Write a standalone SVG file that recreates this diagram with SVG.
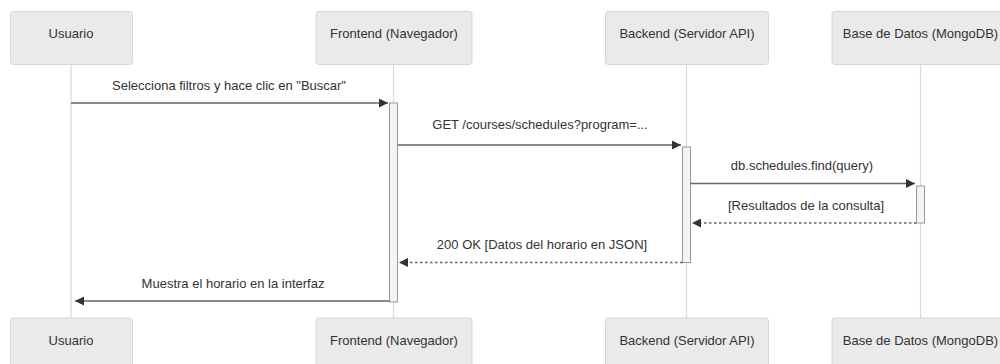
<svg xmlns="http://www.w3.org/2000/svg" width="1000" height="364" viewBox="0 0 1000 364">
<defs>
<style>
.actor{fill:#eaeaea;stroke:#d6d6d6;stroke-width:1}
.atext{font-family:"Liberation Sans",Arial,sans-serif;font-size:13px;fill:#333;text-anchor:middle}
.life{stroke:#d9d9d9;stroke-width:1.2;fill:none}
.act{fill:#f4f4f4;stroke:#999;stroke-width:1}
.msg{stroke:#666;stroke-width:1.3;fill:none}
.dash{stroke-dasharray:2.5 2.5}
.mtext{font-family:"Liberation Sans",Arial,sans-serif;font-size:13px;fill:#333;text-anchor:middle}
</style>
<marker id="arrow" viewBox="0 0 10 10" refX="10" refY="5" markerWidth="9" markerHeight="9" markerUnits="userSpaceOnUse" orient="auto">
<path d="M0,0 L10,5 L0,10 z" fill="#333"/>
</marker>
</defs>
<rect width="1000" height="364" fill="#fff"/>
<g id="lifelines">
<line class="life" x1="71" y1="64" x2="71" y2="318"/>
<line class="life" x1="393.5" y1="64" x2="393.5" y2="318"/>
<line class="life" x1="686.5" y1="64" x2="686.5" y2="318"/>
<line class="life" x1="920.5" y1="64" x2="920.5" y2="318"/>
</g>
<g id="actor-usuario-top"><rect class="actor" x="10.5" y="11.5" width="122" height="53" rx="3"/><text class="atext" x="71" y="38">Usuario</text></g>
<g id="actor-frontend-top"><rect class="actor" x="316" y="11.5" width="156" height="53" rx="3"/><text class="atext" x="394" y="38">Frontend (Navegador)</text></g>
<g id="actor-backend-top"><rect class="actor" x="605.5" y="11.5" width="163" height="53" rx="3"/><text class="atext" x="687" y="38">Backend (Servidor API)</text></g>
<g id="actor-db-top"><rect class="actor" x="832" y="11.5" width="178" height="53" rx="3"/><text class="atext" x="920.5" y="38">Base de Datos (MongoDB)</text></g>
<g id="activations">
<rect class="act" x="389.5" y="103" width="8" height="199"/>
<rect class="act" x="682.5" y="147" width="8" height="115.5"/>
<rect class="act" x="916.5" y="186" width="8" height="37"/>
</g>
<g id="connectors">
<line class="msg" x1="71" y1="103" x2="388" y2="103" marker-end="url(#arrow)"/>
<line class="msg" x1="397.5" y1="145" x2="681" y2="145" marker-end="url(#arrow)"/>
<line class="msg" x1="690.5" y1="183.5" x2="915" y2="183.5" marker-end="url(#arrow)"/>
<line class="msg dash" x1="916.5" y1="223" x2="692" y2="223" marker-end="url(#arrow)"/>
<line class="msg dash" x1="682.5" y1="262.5" x2="399" y2="262.5" marker-end="url(#arrow)"/>
<line class="msg" x1="389.5" y1="301" x2="75" y2="301" marker-end="url(#arrow)"/>
</g>
<g id="labels">
<text class="mtext" x="229" y="90">Selecciona filtros y hace clic en "Buscar"</text>
<text class="mtext" x="540" y="129">GET /courses/schedules?program=...</text>
<text class="mtext" x="802" y="170">db.schedules.find(query)</text>
<text class="mtext" x="806" y="210">[Resultados de la consulta]</text>
<text class="mtext" x="542" y="249">200 OK [Datos del horario en JSON]</text>
<text class="mtext" x="233" y="288">Muestra el horario en la interfaz</text>
</g>
<g id="actor-usuario-bottom"><rect class="actor" x="10.5" y="318" width="122" height="53" rx="3"/><text class="atext" x="71" y="344.5">Usuario</text></g>
<g id="actor-frontend-bottom"><rect class="actor" x="316" y="318" width="156" height="53" rx="3"/><text class="atext" x="394" y="344.5">Frontend (Navegador)</text></g>
<g id="actor-backend-bottom"><rect class="actor" x="605.5" y="318" width="163" height="53" rx="3"/><text class="atext" x="687" y="344.5">Backend (Servidor API)</text></g>
<g id="actor-db-bottom"><rect class="actor" x="832" y="318" width="178" height="53" rx="3"/><text class="atext" x="920.5" y="344.5">Base de Datos (MongoDB)</text></g>
</svg>
